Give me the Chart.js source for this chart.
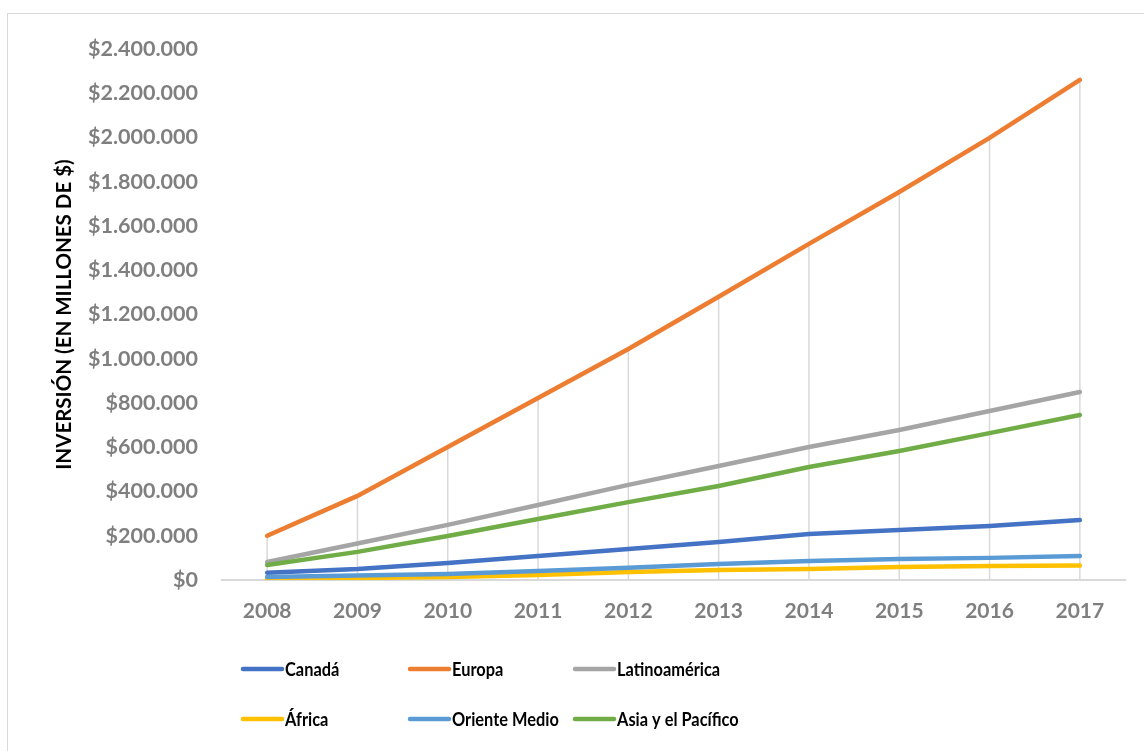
<!DOCTYPE html>
<html>
<head>
<meta charset="utf-8">
<script src="https://cdn.jsdelivr.net/npm/chart.js@4"></script>
<style>
  html, body { margin: 0; padding: 0; background: #ffffff; }
  #wrap { position: relative; width: 1144px; height: 751px; }
  #frame { position: absolute; left: 7px; top: 13px; width: 1150px; height: 760px;
           border: 1px solid #d9d9d9; box-sizing: border-box; }
  canvas { position: absolute; left: 0; top: 0; }
</style>
</head>
<body>
<div id="wrap">
  <div id="frame"></div>
  <canvas id="chart" width="1144" height="751"></canvas>
</div>
<script>
// Years on the horizontal axis
const years = ['2008', '2009', '2010', '2011', '2012', '2013', '2014', '2015', '2016', '2017'];

// Investment per region, in millions of dollars
const canada        = [33000, 50000, 77000, 108000, 140000, 172000, 208000, 226000, 244000, 271000];
const europa        = [200000, 380000, 601000, 823000, 1044000, 1280000, 1519000, 1754000, 1998000, 2260000];
const latinoamerica = [81000, 165000, 249000, 339000, 430000, 515000, 601000, 678000, 764000, 850000];
const africa        = [5000, 9000, 14000, 23000, 36000, 45000, 50000, 59000, 63000, 65000];
const orienteMedio  = [14000, 20000, 27000, 41000, 55000, 72000, 86000, 95000, 100000, 108000];
const asiaPacifico  = [68000, 127000, 199000, 276000, 352000, 425000, 511000, 583000, 664000, 746000];

const seriesNames  = ['Canadá', 'Europa', 'Latinoamérica', 'África', 'Oriente Medio', 'Asia y el Pacífico'];
const seriesValues = [canada, europa, latinoamerica, africa, orienteMedio, asiaPacifico];
const seriesColors = ['#4472C4', '#ED7D31', '#A5A5A5', '#FFC000', '#5B9BD5', '#70AD47'];

const axisTitle = 'INVERSIÓN (EN MILLONES DE $)';

function money(v) {
  return '$' + Math.round(v).toString().replace(/\B(?=(\d{3})+(?!\d))/g, '.');
}

// Drop lines: from the highest value of each year down to the axis
const dropLines = {
  id: 'dropLines',
  beforeDatasetsDraw(chart) {
    const ctx = chart.ctx;
    const xs = chart.scales.x, ys = chart.scales.y;
    const base = ys.getPixelForValue(0);
    ctx.save();
    ctx.strokeStyle = '#d9d9d9';
    ctx.lineWidth = 1.5;
    chart.data.labels.forEach((_, i) => {
      const top = Math.max(...chart.data.datasets.map(ds => ds.data[i]));
      const x = xs.getPixelForValue(i);
      ctx.beginPath();
      ctx.moveTo(x, ys.getPixelForValue(top));
      ctx.lineTo(x, base);
      ctx.stroke();
    });
    ctx.restore();
  }
};

// Legend drawn as a 3-column grid below the plot
const gridLegend = {
  id: 'gridLegend',
  afterDraw(chart) {
    const ctx = chart.ctx;
    const cols = [243, 410, 575];
    const rows = [669, 719];
    const squeeze = 0.84;
    chart.data.datasets.forEach((ds, i) => {
      const x = cols[i % 3];
      const y = rows[Math.floor(i / 3)];
      ctx.save();
      ctx.strokeStyle = ds.borderColor;
      ctx.lineWidth = 4.5;
      ctx.lineCap = 'round';
      ctx.beginPath();
      ctx.moveTo(x, y);
      ctx.lineTo(x + 39, y);
      ctx.stroke();
      ctx.translate(x + 42, y + 1);
      ctx.scale(squeeze, 1);
      ctx.font = 'bold 19.5px Lato';
      ctx.textBaseline = 'middle';
      ctx.textAlign = 'left';
      ctx.fillStyle = '#000000';
      ctx.fillText(ds.label, 0, 0);
      ctx.restore();
    });
  }
};

new Chart(document.getElementById('chart'), {
  type: 'line',
  data: {
    labels: years,
    datasets: seriesNames.map((name, i) => ({
      label: name,
      data: seriesValues[i],
      borderColor: seriesColors[i],
      backgroundColor: seriesColors[i],
      borderWidth: 4.5,
      pointRadius: 0,
      tension: 0,
      borderCapStyle: 'round',
      order: seriesNames.length - i
    }))
  },
  options: {
    responsive: false,
    animation: false,
    layout: { padding: { left: 7, right: 19, top: 49, bottom: 121 } },
    plugins: { legend: { display: false }, tooltip: { enabled: false } },
    scales: {
      x: {
        offset: true,
        grid: { display: false, drawTicks: false },
        border: { color: '#d9d9d9', width: 2 },
        ticks: { color: '#7f7f7f', font: { family: 'Lato', weight: 'bold', size: 21 }, padding: 19, maxRotation: 0 },
        afterFit(s) { s.height = 50; }
      },
      y: {
        min: 0,
        max: 2400000,
        grid: { display: false, drawTicks: false },
        border: { display: false },
        ticks: {
          stepSize: 200000,
          color: '#7f7f7f',
          font: { family: 'Lato', weight: 'bold', size: 21.5 },
          padding: 24,
          callback: v => money(v)
        },
        title: {
          display: true,
          text: axisTitle,
          color: '#000000',
          font: { family: 'Lato', weight: 'bold', size: 20.5 },
          padding: { top: 45, bottom: 0 }
        },
        afterFit(s) { s.width = 215; }
      }
    }
  },
  plugins: [dropLines, gridLegend]
});
</script>
</body>
</html>
